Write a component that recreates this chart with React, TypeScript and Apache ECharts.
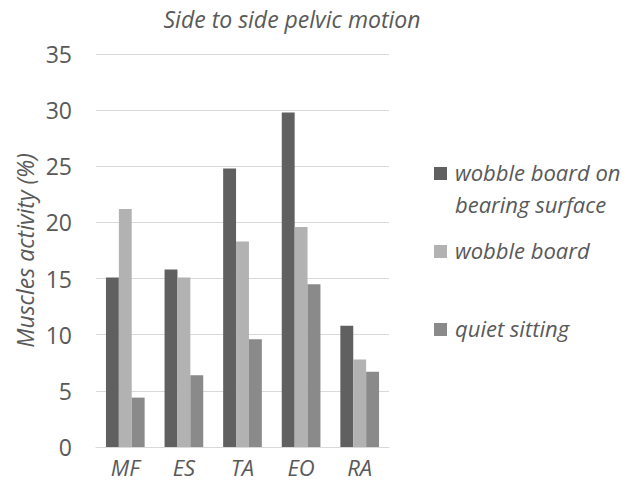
import React, { useEffect, useRef } from "react";
import * as echarts from "echarts";

const categories = ["MF", "ES", "TA", "EO", "RA"];
const seriesNames = ["wobble board on bearing surface", "wobble board", "quiet sitting"];
const legendLines = [["wobble board on", "bearing surface"], ["wobble board"], ["quiet sitting"]];
const wobbleBearing = [15.1, 15.8, 24.8, 29.8, 10.8];
const wobbleBoard = [21.2, 15.1, 18.3, 19.6, 7.8];
const quietSitting = [4.4, 6.4, 9.6, 14.5, 6.7];
const colors = ["#606060", "#b2b2b2", "#8a8a8a"];
const yTicks = [0, 5, 10, 15, 20, 25, 30, 35];

const FONT = "Open Sans";
const TEXT = "#595959";

export default function App() {
  const ref = useRef<HTMLDivElement>(null);
  useEffect(() => {
    if (!ref.current) return;
    const chart = echarts.init(ref.current, null, { renderer: "svg" });
    const data = [wobbleBearing, wobbleBoard, quietSitting];
    const legendTops = [165, 243, 321];
    const graphic: any[] = [];
    legendLines.forEach((lines, i) => {
      graphic.push({
        type: "rect",
        shape: { x: 434, y: legendTops[i] + 2, width: 13, height: 13 },
        style: { fill: colors[i] },
      });
      lines.forEach((ln, j) => {
        graphic.push({
          type: "text",
          x: 455,
          y: legendTops[i] + 7 + j * 32,
          style: {
            text: ln,
            fill: TEXT,
            font: `italic 22px '${FONT}'`,
            textVerticalAlign: "middle",
          },
        });
      });
    });
    chart.setOption({
      animation: false,
      title: {
        text: "Side to side pelvic motion",
        left: 292,
        top: 7,
        padding: 0,
        textAlign: "center",
        textStyle: { fontFamily: FONT, fontStyle: "italic", fontWeight: "normal", fontSize: 23, color: TEXT },
      },
      grid: { left: 96, right: 251, top: 54, bottom: 45, containLabel: false },
      xAxis: {
        type: "category",
        data: categories,
        axisLine: { show: true, lineStyle: { color: "#d9d9d9", width: 1 } },
        axisTick: { show: false },
        axisLabel: { fontFamily: FONT, fontStyle: "italic", fontSize: 22, color: TEXT, margin: 9 },
      },
      yAxis: {
        type: "value",
        min: yTicks[0],
        max: yTicks[yTicks.length - 1],
        interval: 5,
        name: "Muscles activity (%)",
        nameLocation: "middle",
        nameGap: 60,
        nameTextStyle: { fontFamily: FONT, fontStyle: "italic", fontSize: 23, color: TEXT },
        axisLine: { show: false },
        axisTick: { show: false },
        splitLine: { lineStyle: { color: "#d9d9d9", width: 1 } },
        axisLabel: { fontFamily: FONT, fontSize: 23, color: TEXT, margin: 24 },
      },
      series: seriesNames.map((name, i) => ({
        name,
        type: "bar",
        data: data[i],
        barGap: "0%",
        barCategoryGap: "34%",
        itemStyle: { color: colors[i] },
      })),
      graphic,
    });
    return () => chart.dispose();
  }, []);
  return <div ref={ref} style={{ width: 640, height: 492, margin: -8 }} />;
}
